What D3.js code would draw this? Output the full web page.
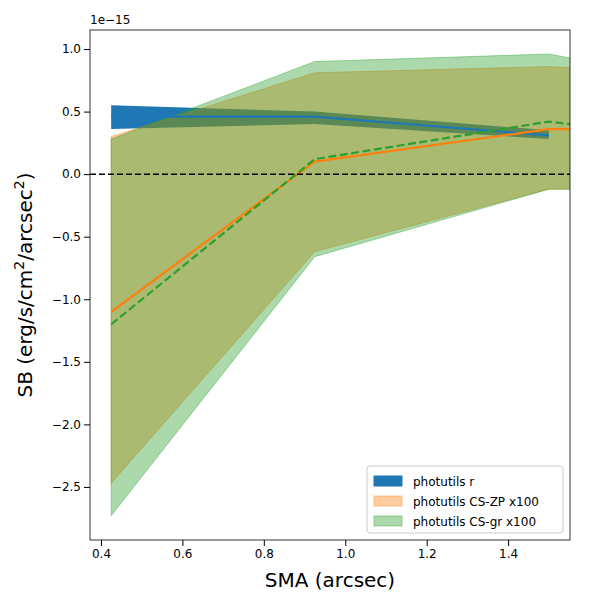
<!DOCTYPE html><html><head><meta charset="utf-8">
<script src="https://cdn.jsdelivr.net/npm/d3@7"></script>
<style>body{margin:0;background:#fff}text{font-family:"DejaVu Sans",sans-serif}</style></head><body>
<svg id="c" width="600" height="600"></svg>
<script>
const sma=[0.425,0.925,1.5,1.6];
const rLine=[0.46,0.46,0.31,null];
const rLo=[0.36,0.40,0.28,null];
const rHi=[0.55,0.50,0.35,null];
const zpLine=[-1.1,0.10,0.36,0.36];
const zpLo=[-2.47,-0.62,-0.12,-0.12];
const zpHi=[0.30,0.81,0.86,0.84];
const grLine=[-1.2,0.12,0.42,0.38];
const grLo=[-2.73,-0.66,-0.12,-0.12];
const grHi=[0.28,0.90,0.96,0.90];
const xTicks=[0.4,0.6,0.8,1.0,1.2,1.4];
const yTicks=[1.0,0.5,0.0,-0.5,-1.0,-1.5,-2.0,-2.5];
const svg=d3.select("#c");
const L=90,R=570,T=30,B=540;
const x=d3.scaleLinear().domain([0.373,1.552]).range([L,R]);
const y=d3.scaleLinear().domain([-2.924,1.152]).range([B,T]);
svg.append("clipPath").attr("id","cp").append("rect").attr("x",L).attr("y",T).attr("width",R-L).attr("height",B-T);
const g=svg.append("g").attr("clip-path","url(#cp)");
function band(lo,hi,fill,op,stroke){
  const idx=sma.map((_,i)=>i).filter(i=>lo[i]!=null);
  const a=d3.area().x(i=>x(sma[i])).y0(i=>y(lo[i])).y1(i=>y(hi[i]));
  g.append("path").attr("d",a(idx)).attr("fill",fill).attr("fill-opacity",op).attr("stroke",stroke||"none").attr("stroke-opacity",op);
}
function line(v,col,dash){
  const idx=sma.map((_,i)=>i).filter(i=>v[i]!=null);
  g.append("path").attr("d",d3.line().x(i=>x(sma[i])).y(i=>y(v[i]))(idx)).attr("fill","none").attr("stroke",col).attr("stroke-width",2.2).attr("stroke-dasharray",dash||null);
}
band(rLo,rHi,"#1f77b4",1);
band(zpLo,zpHi,"#ff7f0e",0.4,"#ff7f0e");
band(grLo,grHi,"#2ca02c",0.4,"#2ca02c");
line(rLine,"#1f77b4");
line(zpLine,"#ff7f0e");
line(grLine,"#2ca02c","8,3.5");
g.append("line").attr("x1",L).attr("x2",R).attr("y1",y(0)).attr("y2",y(0)).attr("stroke","#000").attr("stroke-width",1.5).attr("stroke-dasharray","6,3");
svg.append("rect").attr("x",L).attr("y",T).attr("width",R-L).attr("height",B-T).attr("fill","none").attr("stroke","#000").attr("stroke-width",0.8);
const xa=svg.append("g").attr("transform",`translate(0,${B})`).call(d3.axisBottom(x).tickValues(xTicks).tickFormat(d3.format(".1f")).tickSizeOuter(0));
const ya=svg.append("g").attr("transform",`translate(${L},0)`).call(d3.axisLeft(y).tickValues(yTicks).tickFormat(d=>d.toFixed(1).replace("-","−")).tickSizeOuter(0));
[xa,ya].forEach(a=>{a.select(".domain").remove();a.selectAll("text").attr("font-size",12).attr("fill","#000");a.selectAll("line").attr("stroke","#000");});
svg.append("text").attr("x",L).attr("y",T-6).attr("font-size",12).text("1e−15");
svg.append("text").attr("x",(L+R)/2).attr("y",587).attr("text-anchor","middle").attr("font-size",20).text("SMA (arcsec)");
const yl=svg.append("text").attr("transform",`translate(32,${(T+B)/2}) rotate(-90)`).attr("text-anchor","middle").attr("font-size",20);
yl.append("tspan").text("SB (erg/s/cm");yl.append("tspan").attr("dy",-8).attr("font-size",14).text("2");
yl.append("tspan").attr("dy",8).text("/arcsec");yl.append("tspan").attr("dy",-8).attr("font-size",14).text("2");
yl.append("tspan").attr("dy",8).text(")");
const lg=svg.append("g").attr("transform","translate(367,466)");
lg.append("rect").attr("width",196).attr("height",67).attr("rx",3).attr("fill","#fff").attr("fill-opacity",0.8).attr("stroke","#ccc");
const items=[["photutils r","#1f77b4",1],["photutils CS-ZP x100","#ff7f0e",0.4],["photutils CS-gr x100","#2ca02c",0.4]];
items.forEach((d,i)=>{const yy=10+i*20;
 lg.append("rect").attr("x",7).attr("y",yy).attr("width",28).attr("height",10).attr("fill",d[1]).attr("fill-opacity",d[2]).attr("stroke",d[1]).attr("stroke-opacity",d[2]);
 lg.append("text").attr("x",46).attr("y",yy+10).attr("font-size",12).text(d[0]);});
</script></body></html>
